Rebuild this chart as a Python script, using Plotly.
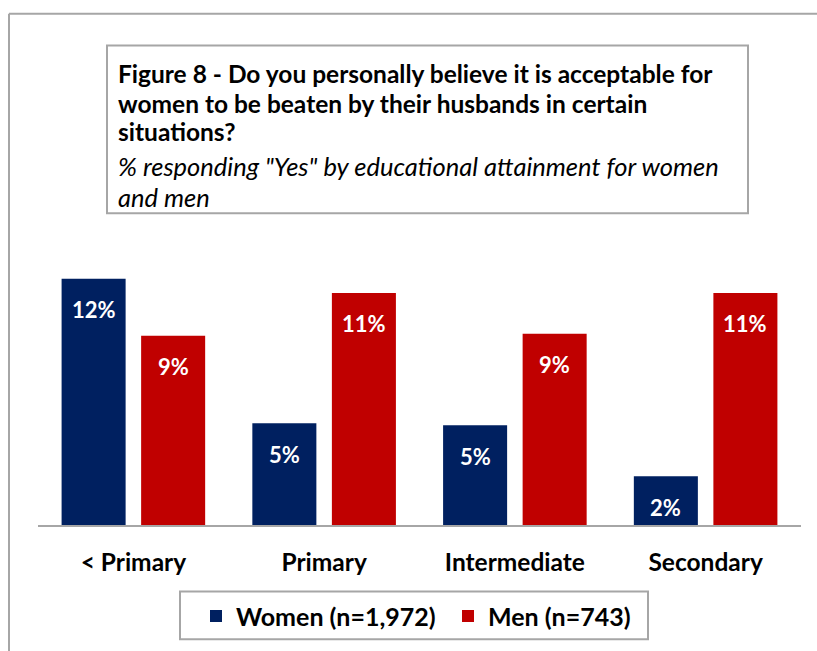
import plotly.graph_objects as go

# Share answering "Yes" (%) by educational attainment
categories = ["< Primary", "Primary", "Intermediate", "Secondary"]
women = [12.1, 5.0, 4.9, 2.4]
men = [9.3, 11.4, 9.4, 11.4]
series_names = ["Women (n=1,972)", "Men (n=743)"]

title_lines = [
    ("<b>Figure 8 - Do you personally believe it is acceptable for</b>", 72, 24.5),
    ("<b>women to be beaten by their husbands in certain</b>", 102, 24.5),
    ("<b>situations?</b>", 131, 24.5),
    ("<i>% responding \"Yes\" by educational attainment for women</i>", 165, 25.5),
    ("<i>and men</i>", 197, 25.5),
]

NAVY = "#002060"
RED = "#C00000"
GRID = "#A6A6A6"
FONT = "Lato"

W, H = 817, 651
L, R, T, B = 38, 16, 247, 124
PW, PH = W - L - R, H - T - B


def px(x):
    return (x - L) / PW


def py(y):
    return (H - B - y) / PH


fig = go.Figure()
for name, vals, color in [(series_names[0], women, NAVY), (series_names[1], men, RED)]:
    fig.add_trace(go.Bar(
        x=categories, y=vals, name=name, marker=dict(color=color, line=dict(width=0)),
    ))

# value labels sitting just inside the top of each bar
offsets = [-0.2085, 0.2085]
for k, vals in enumerate([women, men]):
    for i, v in enumerate(vals):
        fig.add_annotation(
            x=i + offsets[k], y=v, xref="x", yref="y", yshift=-31,
            text=f"<b>{v:.0f}%</b>", showarrow=False,
            font=dict(family=FONT, size=22, color="white"),
        )

# heading box
fig.add_shape(type="rect", xref="paper", yref="paper",
              x0=px(107), x1=px(748), y0=py(213), y1=py(44),
              line=dict(color=GRID, width=2), fillcolor="white")
for text, yc, size in title_lines:
    fig.add_annotation(
        x=px(116), y=py(yc), xref="paper", yref="paper", xanchor="left", yanchor="middle",
        text=text, showarrow=False, font=dict(family=FONT, size=size, color="black"),
    )

# legend frame
fig.add_shape(type="rect", xref="paper", yref="paper",
              x0=px(180), x1=px(648), y0=py(642), y1=py(594),
              line=dict(color=GRID, width=2), fillcolor="rgba(0,0,0,0)")

# frame along top and left
fig.add_shape(type="line", xref="paper", yref="paper", x0=px(9), x1=px(830), y0=py(12), y1=py(12),
              line=dict(color=GRID, width=2))
fig.add_shape(type="line", xref="paper", yref="paper", x0=px(9), x1=px(9), y0=py(12), y1=py(660),
              line=dict(color=GRID, width=2))

fig.update_layout(
    width=W, height=H,
    margin=dict(l=L, r=R, t=T, b=B),
    paper_bgcolor="white", plot_bgcolor="white",
    barmode="group", bargap=0.166, bargroupgap=0.195,
    font=dict(family=FONT, color="black"),
    showlegend=True,
    legend=dict(
        orientation="h", x=px(196), xanchor="left", y=py(619), yanchor="middle",
        borderwidth=0, bgcolor="rgba(0,0,0,0)",
        font=dict(family=FONT, size=25, color="black", weight="bold"),
        entrywidth=207, itemsizing="constant",
    ),
    xaxis=dict(
        showline=True, linecolor=GRID, linewidth=2, ticks="", showgrid=False,
        tickfont=dict(family=FONT, size=24.5, color="black", weight="bold"),
        ticklabelstandoff=15, fixedrange=True,
    ),
    yaxis=dict(range=[0, PH / 20.5], visible=False, showgrid=False, zeroline=False),
)

fig.write_html("out.html")
